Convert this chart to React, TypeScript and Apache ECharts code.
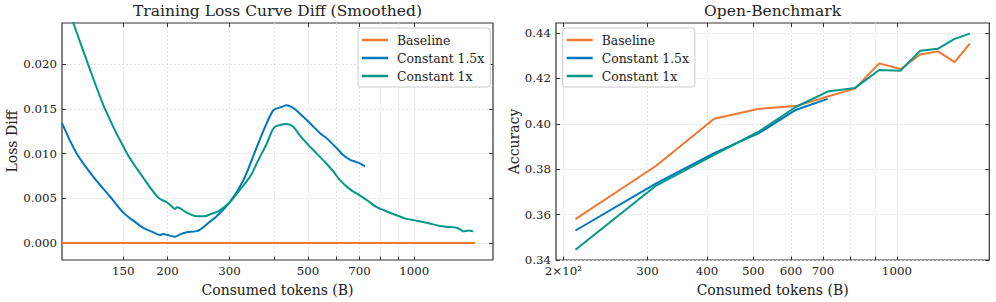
import React, { useEffect, useRef } from 'react';
import * as echarts from 'echarts';

const FONT = 'DejaVu Serif';
const ORANGE = '#EE7733';
const BLUE = '#0077BB';
const TEAL = '#009988';

const seriesNames = ['Baseline', 'Constant 1.5x', 'Constant 1x'];

// ---- Left chart: Training Loss Curve Diff (Smoothed) ----
const lossXRange = [100.6, 1670];
const lossYRange = [-0.0019, 0.0246];
const lossYTicks = [0, 0.005, 0.01, 0.015, 0.02];
const lossXLabels = [150, 200, 300, 500, 700, 1000];
const lossXGrid = [150, 200, 300, 400, 500, 600, 700, 800, 900, 1000];

const lossBaselineX = [100.6, 1485];
const lossBaselineY = [0, 0];

const loss15X = [100.6, 110.7, 123.4, 137.6, 150, 160, 170.9, 180, 190.5, 195, 200, 210.1, 218, 226.8, 240, 247.4, 264.1, 275.9, 300.8, 328, 357.9, 382, 398, 405, 420, 435.2, 450, 464.6, 506.8, 540, 565, 603.1, 630, 657.7, 680, 702, 715, 725.3];
const loss15Y = [0.0134, 0.0100, 0.0074, 0.0052, 0.0034, 0.0025, 0.0017, 0.0013, 0.0009, 0.0010, 0.0009, 0.0007, 0.0010, 0.0012, 0.0013, 0.0015, 0.0024, 0.0030, 0.0046, 0.0070, 0.0107, 0.0134, 0.0148, 0.0150, 0.0152, 0.0154, 0.0152, 0.0148, 0.0134, 0.0123, 0.0117, 0.0106, 0.0098, 0.0093, 0.0091, 0.0089, 0.0087, 0.0086];

const loss1X = [100.6, 108.3, 119.2, 133.1, 153.7, 170.9, 188.1, 200, 207, 210, 213, 226.8, 242.1, 255, 264.1, 280, 300.8, 320, 342.6, 362, 382, 395, 403.3, 416.6, 435.2, 454.4, 474.6, 500, 529.4, 560, 589.9, 616.2, 657.7, 702, 740, 782.7, 840, 891.4, 950, 1015.6, 1100, 1182.5, 1250, 1318.5, 1350, 1376.6, 1420, 1469];
const loss1Y = [0.0280, 0.0246, 0.0200, 0.0150, 0.0100, 0.0073, 0.0051, 0.0045, 0.0040, 0.0038, 0.0040, 0.0034, 0.0030, 0.0030, 0.0032, 0.0036, 0.0046, 0.0059, 0.0074, 0.0093, 0.0111, 0.0125, 0.0130, 0.0132, 0.0133, 0.0130, 0.0120, 0.0110, 0.0100, 0.0090, 0.0080, 0.0070, 0.0060, 0.0053, 0.0047, 0.0040, 0.0035, 0.0031, 0.0027, 0.0025, 0.0022, 0.0019, 0.0018, 0.0017, 0.0015, 0.0013, 0.0014, 0.0013];

// ---- Right chart: Open-Benchmark ----
const benchXRange = [193, 1562];
const benchYRange = [0.34, 0.4444];
const benchYTicks = [0.34, 0.36, 0.38, 0.40, 0.42, 0.44];
const benchXLabels = [200, 300, 400, 500, 600, 700, 1000];
const benchXGrid = [200, 300, 400, 500, 600, 700, 800, 900, 1000];

const benchTokens = [212, 313, 414, 514, 615, 716, 817, 918, 1018, 1119, 1220, 1321, 1422];
const benchBaseline = [0.358, 0.3815, 0.4022, 0.4066, 0.4078, 0.4120, 0.4155, 0.4266, 0.4241, 0.4305, 0.4319, 0.4272, 0.4353];
const bench15 = [0.3530, 0.3738, 0.3871, 0.3959, 0.4062, 0.4110];
const bench1 = [0.3445, 0.3728, 0.3863, 0.3966, 0.4075, 0.4142, 0.4158, 0.4237, 0.4234, 0.4322, 0.4331, 0.4374, 0.4397];

const lg = (v: number) => Math.log10(v);
const pairs = (xs: number[], ys: number[]) => ys.map((y, i) => [lg(xs[i]), y]);

const TICK_COLOR = '#333333';
const LABEL_COLOR = '#222222';
const GRID_LINE = { show: true, lineStyle: { color: '#dddddd', width: 0.8, type: [2, 2] as any } };

function logXAxis(gridIndex: number, range: number[], labels: number[], grid: number[], fmt: (n: number) => string) {
  return {
    type: 'value',
    gridIndex,
    position: 'bottom',
    min: lg(range[0]),
    max: lg(range[1]),
    name: 'Consumed tokens (B)',
    nameLocation: 'middle',
    nameGap: 23,
    nameTextStyle: { fontFamily: FONT, fontSize: 14, color: LABEL_COLOR },
    axisLine: { show: false, onZero: false },
    axisTick: { show: true, inside: true, length: 3.5, customValues: grid.map(lg), lineStyle: { color: TICK_COLOR, width: 1 } },
    axisLabel: {
      show: true,
      margin: 5,
      customValues: labels.map(lg),
      fontFamily: FONT,
      fontSize: 11.8,
      color: LABEL_COLOR,
      formatter: (v: number) => fmt(Math.round(Math.pow(10, v))),
    },
    splitLine: GRID_LINE,
  };
}

function topXAxis(gridIndex: number, range: number[], labels: number[]) {
  return {
    type: 'value',
    gridIndex,
    position: 'top',
    min: lg(range[0]),
    max: lg(range[1]),
    axisLine: { show: false, onZero: false },
    axisTick: { show: true, inside: true, length: 4, customValues: labels.map(lg), lineStyle: { color: TICK_COLOR, width: 1 } },
    axisLabel: { show: false },
    splitLine: { show: false },
  };
}

function leftYAxis(gridIndex: number, range: number[], ticks: number[], name: string, nameGap: number, digits: number) {
  return {
    type: 'value',
    gridIndex,
    position: 'left',
    min: range[0],
    max: range[1],
    name,
    nameLocation: 'middle',
    nameGap,
    nameTextStyle: { fontFamily: FONT, fontSize: 14, color: LABEL_COLOR },
    axisLine: { show: false, onZero: false },
    axisTick: { show: true, inside: true, length: 4, customValues: ticks, lineStyle: { color: TICK_COLOR, width: 1 } },
    axisLabel: {
      show: true,
      margin: 5,
      customValues: ticks,
      fontFamily: FONT,
      fontSize: 11.8,
      color: LABEL_COLOR,
      formatter: (v: number) => v.toFixed(digits),
    },
    splitLine: GRID_LINE,
  };
}

function rightYAxis(gridIndex: number, range: number[], ticks: number[]) {
  return {
    type: 'value',
    gridIndex,
    position: 'right',
    min: range[0],
    max: range[1],
    axisLine: { show: false, onZero: false },
    axisTick: { show: true, inside: true, length: 4, customValues: ticks, lineStyle: { color: TICK_COLOR, width: 1 } },
    axisLabel: { show: false },
    splitLine: { show: false },
  };
}

function legend(left: number) {
  return {
    left,
    top: 28,
    orient: 'vertical',
    icon: 'rect',
    itemWidth: 26,
    itemHeight: 2.5,
    itemGap: 4,
    padding: [5, 6, 4, 4],
    borderColor: '#cccccc',
    borderWidth: 1,
    borderRadius: 3,
    backgroundColor: 'rgba(255,255,255,0.85)',
    textStyle: { fontFamily: FONT, fontSize: 12.4, color: LABEL_COLOR, lineHeight: 14, padding: [0, 0, 0, 4] },
    data: seriesNames,
  };
}

function line(name: string, color: string, data: number[][], xi: number, yi: number, smooth: number | boolean) {
  return {
    type: 'line',
    name,
    xAxisIndex: xi,
    yAxisIndex: yi,
    data,
    showSymbol: false,
    symbol: 'none',
    clip: true,
    smooth,
    color,
    lineStyle: { color, width: 2 },
    emphasis: { disabled: true },
  };
}

export default function App() {
  const ref = useRef<HTMLDivElement>(null);
  useEffect(() => {
    const chart = echarts.init(ref.current!, undefined, { renderer: 'svg' });
    const option: any = {
      animation: false,
      backgroundColor: '#ffffff',
      textStyle: { fontFamily: FONT },
      title: [
        { text: 'Training Loss Curve Diff (Smoothed)', left: 277.5, top: 3, textAlign: 'center', padding: 0, textStyle: { fontFamily: FONT, fontSize: 15.5, fontWeight: 'normal', color: LABEL_COLOR } },
        { text: 'Open-Benchmark', left: 772.6, top: 3, textAlign: 'center', padding: 0, textStyle: { fontFamily: FONT, fontSize: 15.5, fontWeight: 'normal', color: LABEL_COLOR } },
      ],
      legend: [legend(358), legend(562.7)],
      grid: [
        { left: 62, top: 23, width: 431, height: 237, show: true, borderColor: '#333333', borderWidth: 1.2, backgroundColor: 'transparent', containLabel: false },
        { left: 556, top: 23, width: 433.3, height: 237, show: true, borderColor: '#333333', borderWidth: 1.2, backgroundColor: 'transparent', containLabel: false },
      ],
      xAxis: [
        logXAxis(0, lossXRange, lossXLabels, lossXGrid, (n) => String(n)),
        topXAxis(0, lossXRange, lossXLabels),
        logXAxis(1, benchXRange, benchXLabels, benchXGrid, (n) => (n === 200 ? '2×10²' : String(n))),
        topXAxis(1, benchXRange, benchXLabels),
      ],
      yAxis: [
        leftYAxis(0, lossYRange, lossYTicks, 'Loss Diff', 42, 3),
        rightYAxis(0, lossYRange, lossYTicks),
        leftYAxis(1, benchYRange, benchYTicks, 'Accuracy', 34, 2),
        rightYAxis(1, benchYRange, benchYTicks),
      ],
      series: [
        line('Baseline', ORANGE, pairs(lossBaselineX, lossBaselineY), 0, 0, false),
        line('Constant 1.5x', BLUE, pairs(loss15X, loss15Y), 0, 0, 0.3),
        line('Constant 1x', TEAL, pairs(loss1X, loss1Y), 0, 0, 0.3),
        line('Baseline', ORANGE, pairs(benchTokens, benchBaseline), 2, 2, false),
        line('Constant 1.5x', BLUE, pairs(benchTokens, bench15), 2, 2, false),
        line('Constant 1x', TEAL, pairs(benchTokens, bench1), 2, 2, false),
      ],
    };
    chart.setOption(option);
    return () => chart.dispose();
  }, []);
  return (
    <div
      ref={ref}
      style={{ position: 'fixed', left: 0, top: 0, width: 996, height: 302, background: '#ffffff' }}
    />
  );
}
